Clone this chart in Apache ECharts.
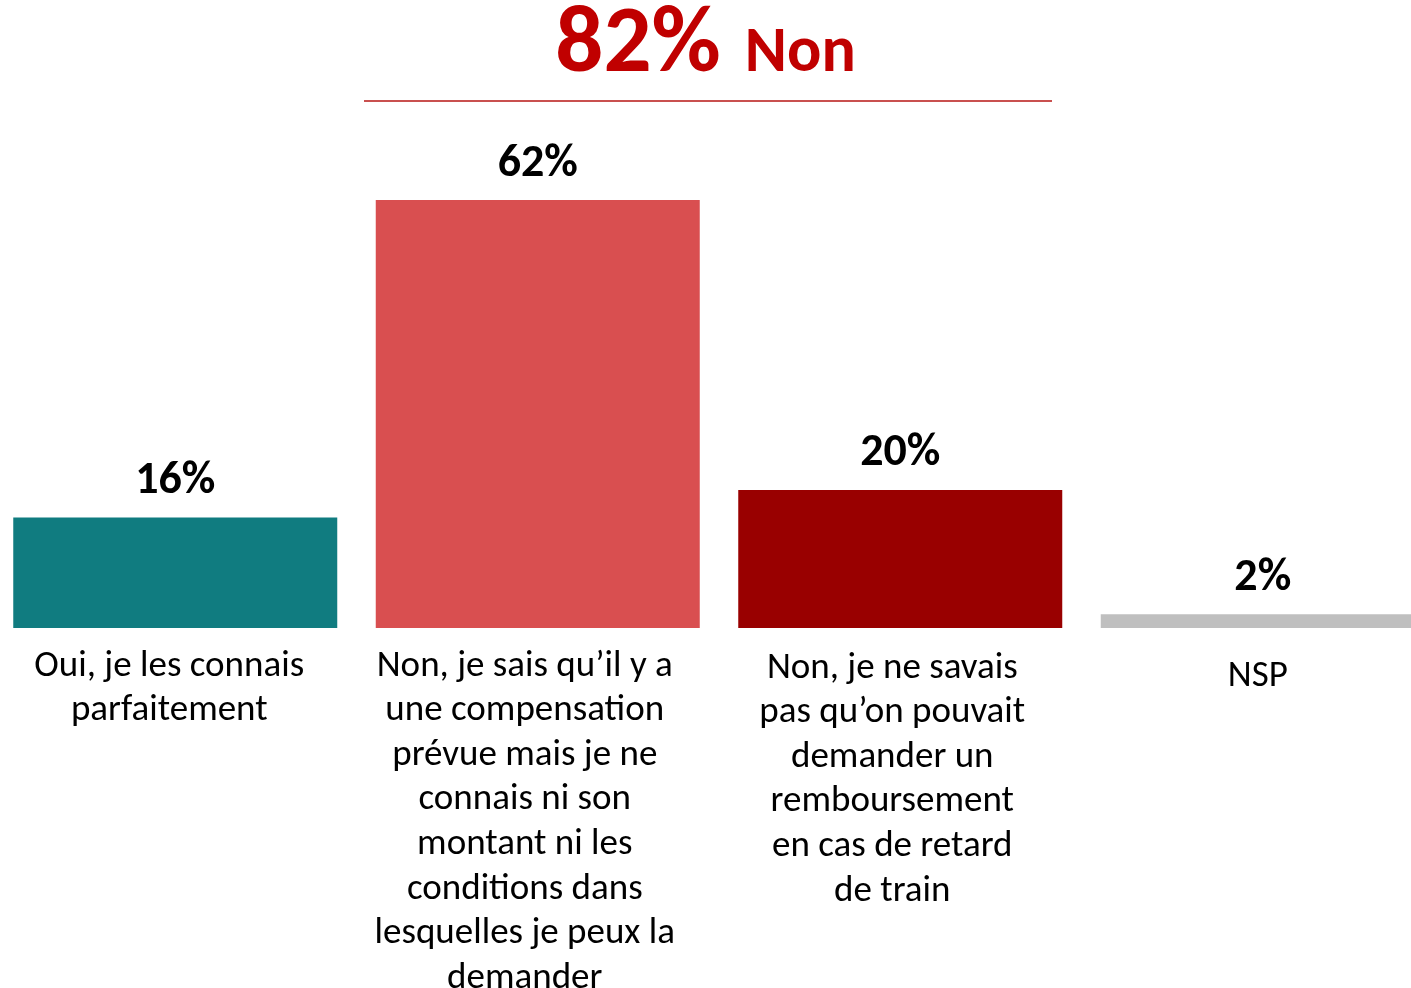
<!DOCTYPE html>
<html>
<head>
<meta charset="utf-8">
<script src="https://cdn.jsdelivr.net/npm/echarts@6/dist/echarts.min.js"></script>
<style>
html,body{margin:0;padding:0;background:#fff;}
#chart{width:1411px;height:988px;}
</style>
</head>
<body>
<div id="chart"></div>
<script>
// ---- data ----
var categories = [
  "Oui, je les connais\nparfaitement",
  "Non, je sais qu’il y a\nune compensation\nprévue mais je ne\nconnais ni son\nmontant ni les\nconditions dans\nlesquelles je peux la\ndemander",
  "Non, je ne savais\npas qu’on pouvait\ndemander un\nremboursement\nen cas de retard\nde train",
  "NSP"
];
var values = [16, 62, 20, 2];
var headlineValue = "82%";
var headlineLabel = "Non";

// ---- styles ----
var barColors = ["#107C80", "#D94F50", "#990000", "#BFBFBF"];
var labelPads = [[0, 12, 0, 0], [0, 26, 0, 0], [2, 16, 0, 0], [10, 10, 0, 0]];
var FONT = "Carlito, Calibri, Lato, sans-serif";

var chart = echarts.init(document.getElementById('chart'), null, {renderer: 'canvas'});
chart.setOption({
  backgroundColor: '#ffffff',
  animation: false,
  title: {
    left: 'center',
    top: -10,
    text: '{a|' + headlineValue + '}{b|' + headlineLabel + '}',
    textStyle: {
      rich: {
        a: {fontFamily: FONT, fontWeight: 'bold', fontSize: 95, color: '#C00000', verticalAlign: 'bottom', lineHeight: 100},
        b: {fontFamily: FONT, fontWeight: 'bold', fontSize: 64, color: '#C00000', verticalAlign: 'bottom', padding: [0, 0, 8, 24]}
      }
    }
  },
  graphic: [{
    type: 'line',
    shape: {x1: 364, y1: 101, x2: 1052, y2: 101},
    style: {stroke: '#C9504F', lineWidth: 2}
  }],
  grid: {left: -6, width: 1450, top: 200, bottom: 360, containLabel: false, outerBoundsMode: 'none'},
  xAxis: {
    type: 'category',
    data: categories.map(function (c, i) {
      return {value: c, textStyle: {padding: labelPads[i]}};
    }),
    axisLine: {show: false},
    axisTick: {show: false},
    axisLabel: {
      interval: 0,
      margin: 16,
      fontFamily: FONT,
      fontSize: 37,
      lineHeight: 44.6,
      color: '#000000',
      align: 'center',
      verticalAlign: 'top'
    }
  },
  yAxis: {
    type: 'value',
    min: 0,
    max: 62,
    show: false,
    splitLine: {show: false}
  },
  series: [{
    type: 'bar',
    barWidth: 324,
    data: values.map(function (v, i) {
      return {value: v, itemStyle: {color: barColors[i]}};
    }),
    label: {
      show: true,
      position: 'top',
      distance: 13,
      formatter: '{c}%',
      fontFamily: FONT,
      fontWeight: 'bold',
      fontSize: 46,
      color: '#000000'
    }
  }]
});
</script>
</body>
</html>
